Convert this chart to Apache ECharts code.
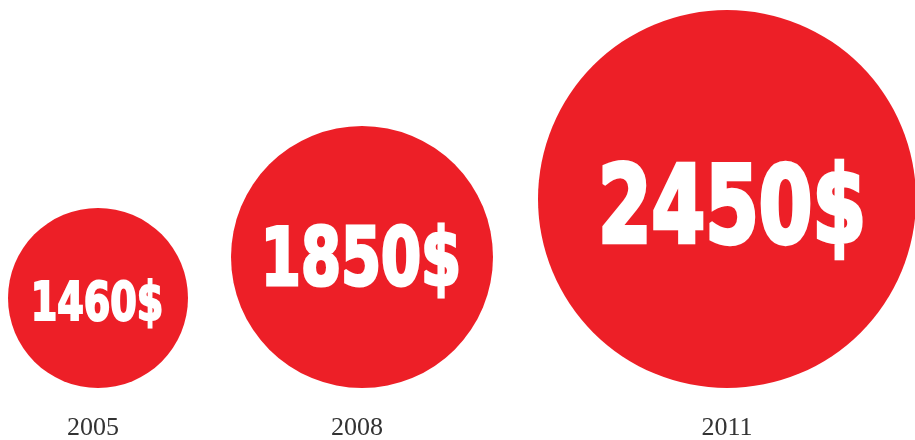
<!DOCTYPE html>
<html>
<head>
<meta charset="utf-8">
<script src="https://cdn.jsdelivr.net/npm/echarts@6/dist/echarts.min.js"></script>
<style>
  html, body { margin: 0; padding: 0; background: #fff; }
  #main { width: 915px; height: 440px; }
</style>
</head>
<body>
<div id="main"></div>
<script>
// data
var years = ['2005', '2008', '2011'];
var amounts = [1460, 1850, 2450];

// layout (pixels)
var centerX = [98, 362, 727];
var diameters = [180, 262, 378];
var fontSizes = [53, 80, 107];
var textDx = [-1, -1, 5];
var textDy = [8, 7, 15];
var baseLine = 388;
var yearY = 428;

(function () {
    var myChart = echarts.init(document.getElementById('main'));

    var rows = amounts.map(function (v, i) {
        return [centerX[i], baseLine - diameters[i] / 2, v, i];
    });

    function renderItem(params, api) {
        var i = api.value(3);
        var c = api.coord([api.value(0), api.value(1)]);
        var r = diameters[i] / 2;
        var fs = fontSizes[i];
        var yearPt = api.coord([api.value(0), yearY]);
        return {
            type: 'group',
            children: [
                {
                    type: 'circle',
                    shape: { cx: c[0], cy: c[1], r: r },
                    style: { fill: '#ED1F27' }
                },
                {
                    type: 'text',
                    x: c[0] + textDx[i],
                    y: c[1] + textDy[i],
                    scaleX: 0.8,
                    style: {
                        text: api.value(2) + '$',
                        fill: '#fff',
                        stroke: '#fff',
                        lineWidth: fs * 0.04,
                        font: 'bold ' + fs + 'px "DejaVu Sans Condensed", sans-serif',
                        align: 'center',
                        verticalAlign: 'middle'
                    }
                },
                {
                    type: 'text',
                    x: yearPt[0] - (i < 2 ? 5 : 0),
                    y: yearPt[1],
                    style: {
                        text: years[i],
                        fill: '#333',
                        font: '26px "Liberation Serif", serif',
                        align: 'center',
                        verticalAlign: 'middle'
                    }
                }
            ]
        };
    }

    var option = {
        animation: false,
        grid: { left: 0, right: 0, top: 0, bottom: 0 },
        xAxis: { type: 'value', min: 0, max: 915, show: false },
        yAxis: { type: 'value', min: 0, max: 440, inverse: true, show: false },
        series: [
            {
                type: 'custom',
                renderItem: renderItem,
                encode: { x: 0, y: 1 },
                data: rows
            }
        ]
    };

    myChart.setOption(option);
})();
</script>
</body>
</html>
